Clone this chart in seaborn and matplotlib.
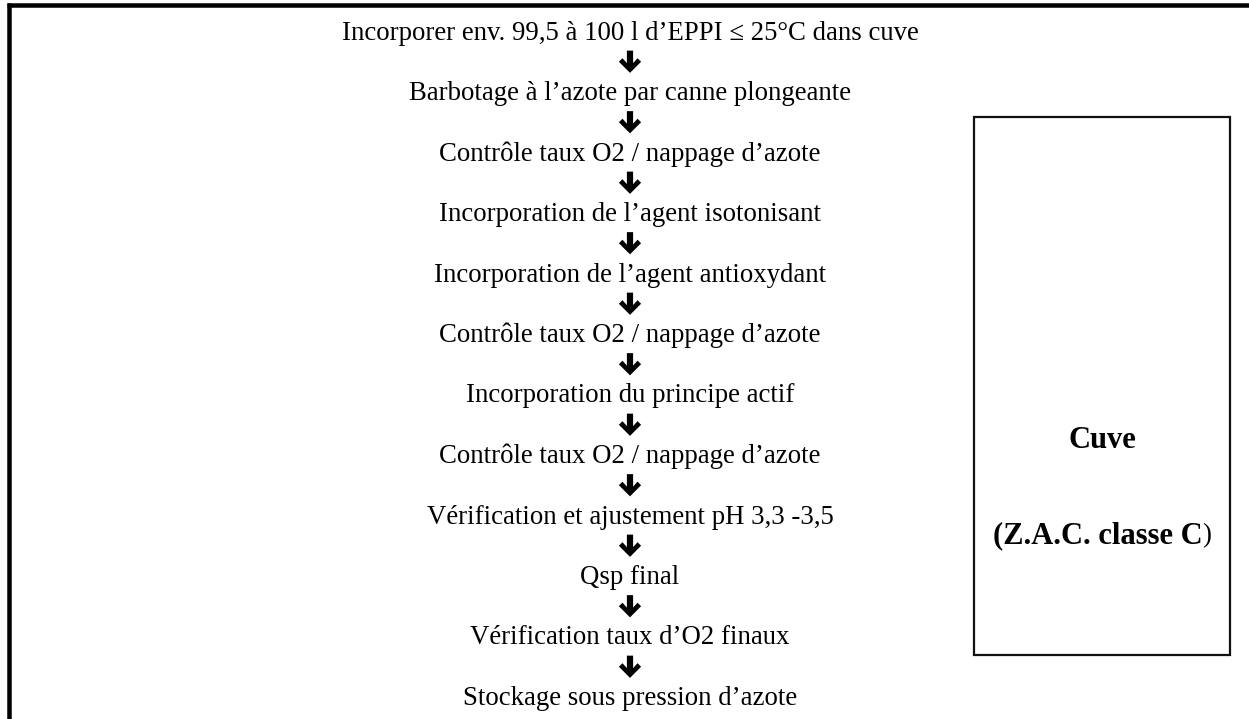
import matplotlib
matplotlib.use("Agg")
import matplotlib.pyplot as plt
from matplotlib.path import Path
from matplotlib.patches import Rectangle
import seaborn as sns
import numpy as np
import pandas as pd

# ---- data ----
steps = [
    "Incorporer env. 99,5 à 100 l d\u2019EPPI \u2264 25°C dans cuve",
    "Barbotage à l\u2019azote par canne plongeante",
    "Contrôle taux O2 / nappage d\u2019azote",
    "Incorporation de l\u2019agent isotonisant",
    "Incorporation de l\u2019agent antioxydant",
    "Contrôle taux O2 / nappage d\u2019azote",
    "Incorporation du principe actif",
    "Contrôle taux O2 / nappage d\u2019azote",
    "Vérification et ajustement pH 3,3 -3,5",
    "Qsp final",
    "Vérification taux d\u2019O2 finaux",
    "Stockage sous pression d\u2019azote",
]
box_title = "Cuve"
box_sub_bold = "(Z.A.C. classe C"
box_sub_tail = ")"

sns.set_theme(style="white")
plt.rcParams["font.family"] = ["Liberation Serif", "DejaVu Serif"]

W, H = 1249, 719
fig = plt.figure(figsize=(W / 100, H / 100), dpi=100)
ax = fig.add_axes([0, 0, 1, 1])

# layout
x_c = 630
y0, dy = 33, 60.5
fs = 19.3
fs_box = 22

ys = y0 + dy * np.arange(len(steps))

# arrows between steps (marker path in screen coords: y up)
arrow_verts = [(-0.14, 0.5), (-0.14, -0.06), (-0.34, 0.16), (-0.5, 0.0),
               (0.0, -0.5), (0.5, 0.0), (0.34, 0.16), (0.14, -0.06),
               (0.14, 0.5), (-0.14, 0.5)]
arrow_path = Path(arrow_verts)
arrows = pd.DataFrame({"x": [x_c] * (len(steps) - 1),
                       "y": (ys[:-1] + ys[1:]) / 2 - 1.5})
sns.scatterplot(data=arrows, x="x", y="y", marker=arrow_path, s=16 ** 2,
                color="black", edgecolor="none", linewidth=0, ax=ax, legend=False)
ax.set_xlim(0, W)
ax.set_ylim(H, 0)
ax.axis("off")

for y, s in zip(ys, steps):
    ax.text(x_c, y, s, ha="center", va="center", fontsize=fs, color="black")

# outer frame (top + left)
lw_frame = 4.5 * 0.72
ax.plot([7, W], [5, 5], color="black", lw=lw_frame, solid_capstyle="butt")
ax.plot([9, 9], [3, H], color="black", lw=lw_frame, solid_capstyle="butt")

# side box
bx0, bx1, by0, by1 = 974, 1230, 117, 655
ax.add_patch(Rectangle((bx0, by0), bx1 - bx0, by1 - by0, fill=False,
                       edgecolor="#111111", lw=1.6))
bxc = (bx0 + bx1) / 2
ax.text(bxc, 440, box_title, ha="center", va="center", fontsize=fs_box,
        fontweight="bold", color="black")

fig.canvas.draw()
r = fig.canvas.get_renderer()
t1 = ax.text(0, 536, box_sub_bold, ha="left", va="center", fontsize=fs_box,
             fontweight="bold", color="black")
t2 = ax.text(0, 536, box_sub_tail, ha="left", va="center", fontsize=fs,
             color="black")
w1 = t1.get_window_extent(r).width
w2 = t2.get_window_extent(r).width
start = bxc - (w1 + w2) / 2
t1.set_x(start)
t2.set_x(start + w1)

fig.savefig("out.png", dpi=100, facecolor="white")
